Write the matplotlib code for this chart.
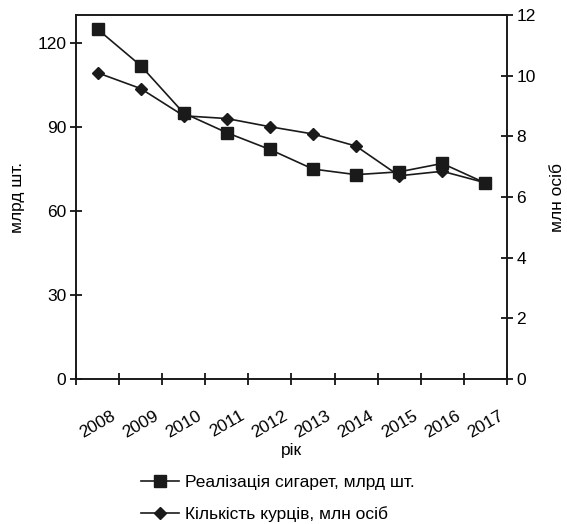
import matplotlib
matplotlib.use("Agg")
import matplotlib.pyplot as plt
from matplotlib.ticker import FixedLocator, NullFormatter

plt.rcParams['font.family'] = ['Liberation Sans', 'DejaVu Sans']

years = ['2008', '2009', '2010', '2011', '2012', '2013', '2014', '2015', '2016', '2017']
cigarettes = [125, 112, 95, 88, 82, 75, 73, 74, 77, 70]          # млрд шт.
smokers = [10.1, 9.58, 8.68, 8.59, 8.32, 8.08, 7.68, 6.7, 6.85, 6.47]  # млн осіб

label_cig = 'Реалізація сигарет, млрд шт.'
label_smk = 'Кількість курців, млн осіб'

FS = 12.5

fig = plt.figure(figsize=(5.67, 5.24), dpi=100)
ax = fig.add_axes([0.134, 0.277, 0.760, 0.694])
ax2 = ax.twinx()
ax.set_zorder(ax2.get_zorder() + 1)
ax.patch.set_visible(False)

x = list(range(len(years)))
l1, = ax.plot(x, cigarettes, color='#1a1a1a', lw=1.2, marker='s', markersize=8,
              label=label_cig)
l2, = ax2.plot(x, smokers, color='#1a1a1a', lw=1.2, marker='D', markersize=6,
               label=label_smk)

ax.set_xlim(-0.5, len(years) - 0.5)
ax.set_ylim(0, 130)
ax2.set_ylim(0, 12)
ax.set_yticks([0, 30, 60, 90, 120])
ax2.set_yticks([0, 2, 4, 6, 8, 10, 12])

ax.xaxis.set_major_locator(FixedLocator([i - 0.5 for i in range(len(years) + 1)]))
ax.xaxis.set_major_formatter(NullFormatter())
ax.xaxis.set_minor_locator(FixedLocator(x))
ax.set_xticklabels(years, minor=True, rotation=30, ha='center')
ax.tick_params(axis='x', which='minor', length=0, pad=21, labelsize=FS)
ax.tick_params(axis='x', which='major', direction='inout', length=8, width=1.2)
ax.tick_params(axis='y', direction='inout', length=8, width=1.2, labelsize=FS, pad=3)
ax2.tick_params(axis='y', direction='inout', length=8, width=1.2, labelsize=FS, pad=3)

for a in (ax, ax2):
    for s in a.spines.values():
        s.set_linewidth(1.2)
        s.set_color('#1a1a1a')

ax.set_ylabel('млрд шт.', fontsize=FS, labelpad=9)
ax2.set_ylabel('млн осіб', fontsize=FS, labelpad=10)
ax.set_xlabel('рік', fontsize=FS, labelpad=2)

fig.legend(handles=[l1, l2], loc='upper center', bbox_to_anchor=(0.49, 0.124),
           frameon=False, fontsize=FS, labelspacing=0.95, handlelength=2.2,
           handletextpad=0.3)

fig.savefig('out.png', dpi=100)
